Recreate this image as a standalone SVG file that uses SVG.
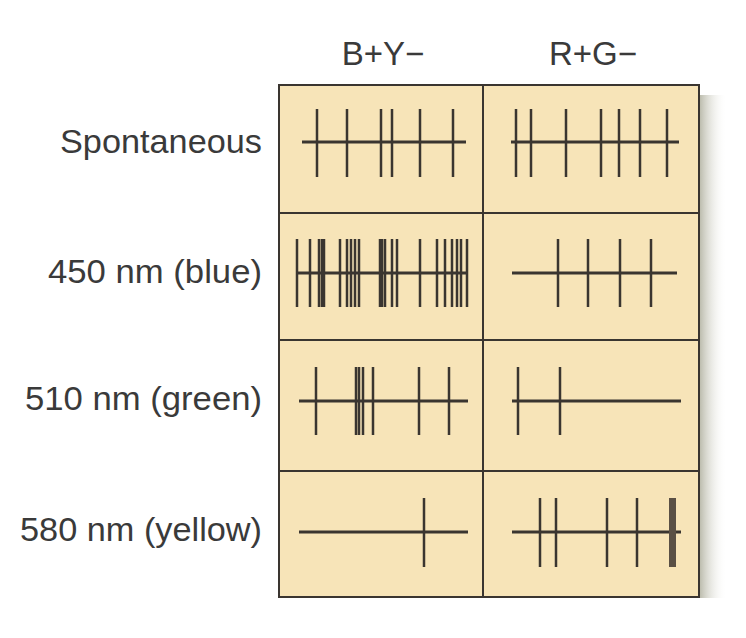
<svg xmlns="http://www.w3.org/2000/svg" width="746" height="638" viewBox="0 0 746 638">
<style>
text{font-family:"Liberation Sans",Arial,sans-serif;font-size:33px;fill:#3a3a3a}
.lab{text-anchor:end}
.hd{text-anchor:middle}
.base{stroke:#3a3530;stroke-width:3}
.sp{stroke:#3a3530;stroke-width:2.5}
.grid{stroke:#3a3530;stroke-width:2;fill:none}
</style>
<defs>
<linearGradient id="sh" x1="0" x2="1" y1="0" y2="0">
<stop offset="0" stop-color="#b8b8a8"/><stop offset="1" stop-color="#ffffff" stop-opacity="0"/>
</linearGradient>
</defs>
<rect x="699" y="95" width="28" height="503" fill="url(#sh)"/>
<rect x="279" y="85" width="420" height="512" fill="#f7e4b8"/>
<g id="headers">
<text class="hd" x="383" y="65">B+Y−</text>
<text class="hd" x="593" y="65">R+G−</text>
</g>
<g id="labels">
<text class="lab" x="262" y="153" textLength="202" lengthAdjust="spacingAndGlyphs">Spontaneous</text>
<text class="lab" x="262" y="283" textLength="214" lengthAdjust="spacingAndGlyphs">450 nm (blue)</text>
<text class="lab" x="262" y="410" textLength="237" lengthAdjust="spacingAndGlyphs">510 nm (green)</text>
<text class="lab" x="262" y="541" textLength="242" lengthAdjust="spacingAndGlyphs">580 nm (yellow)</text>
</g>
<g id="grid" class="grid">
<rect x="279" y="85" width="420" height="512"/>
<line x1="483" y1="85" x2="483" y2="597"/>
<line x1="279" y1="213" x2="699" y2="213"/>
<line x1="279" y1="340" x2="699" y2="340"/>
<line x1="279" y1="471" x2="699" y2="471"/>
</g>
<g id="r1l"><line class="base" x1="302" y1="142" x2="466" y2="142"/>
<path class="sp" d="M317 109V177M347 109V177M381 109V177M392 109V177M420 109V177M453 109V177"/></g>
<g id="r1r"><line class="base" x1="511" y1="142" x2="679" y2="142"/>
<path class="sp" d="M516 109V177M531 109V177M566 109V177M601 109V177M619 109V177M640 109V177M667 109V177"/></g>
<g id="r2l"><line class="base" x1="296" y1="273" x2="467" y2="273"/>
<path class="sp" d="M297 239V307M310 239V307M319 239V307M322 239V307M324 239V307M340 239V307M347 239V307M351 239V307M355 239V307M359 239V307M380 239V307M382 239V307M385 239V307M392 239V307M397 239V307M420 239V307M437 239V307M445 239V307M452 239V307M457 239V307M461 239V307M467 239V307"/></g>
<g id="r2r"><line class="base" x1="512" y1="273" x2="677" y2="273"/>
<path class="sp" d="M558 239V307M588 239V307M620 239V307M651 239V307"/></g>
<g id="r3l"><line class="base" x1="299" y1="401" x2="468" y2="401"/>
<path class="sp" d="M316 367V435M356 367V435M359 367V435M363 367V435M373 367V435M419 367V435M449 367V435"/></g>
<g id="r3r"><line class="base" x1="512" y1="401" x2="681" y2="401"/>
<path class="sp" d="M518 367V435M560 367V435"/></g>
<g id="r4l"><line class="base" x1="299" y1="532" x2="468" y2="532"/>
<path class="sp" d="M424 498V567"/></g>
<g id="r4r"><line class="base" x1="512" y1="532" x2="681" y2="532"/>
<path class="sp" d="M540 498V567M556 498V567M607 498V567M637 498V567"/>
<rect x="669" y="498" width="7" height="69" fill="#5a5045"/></g>
</svg>
